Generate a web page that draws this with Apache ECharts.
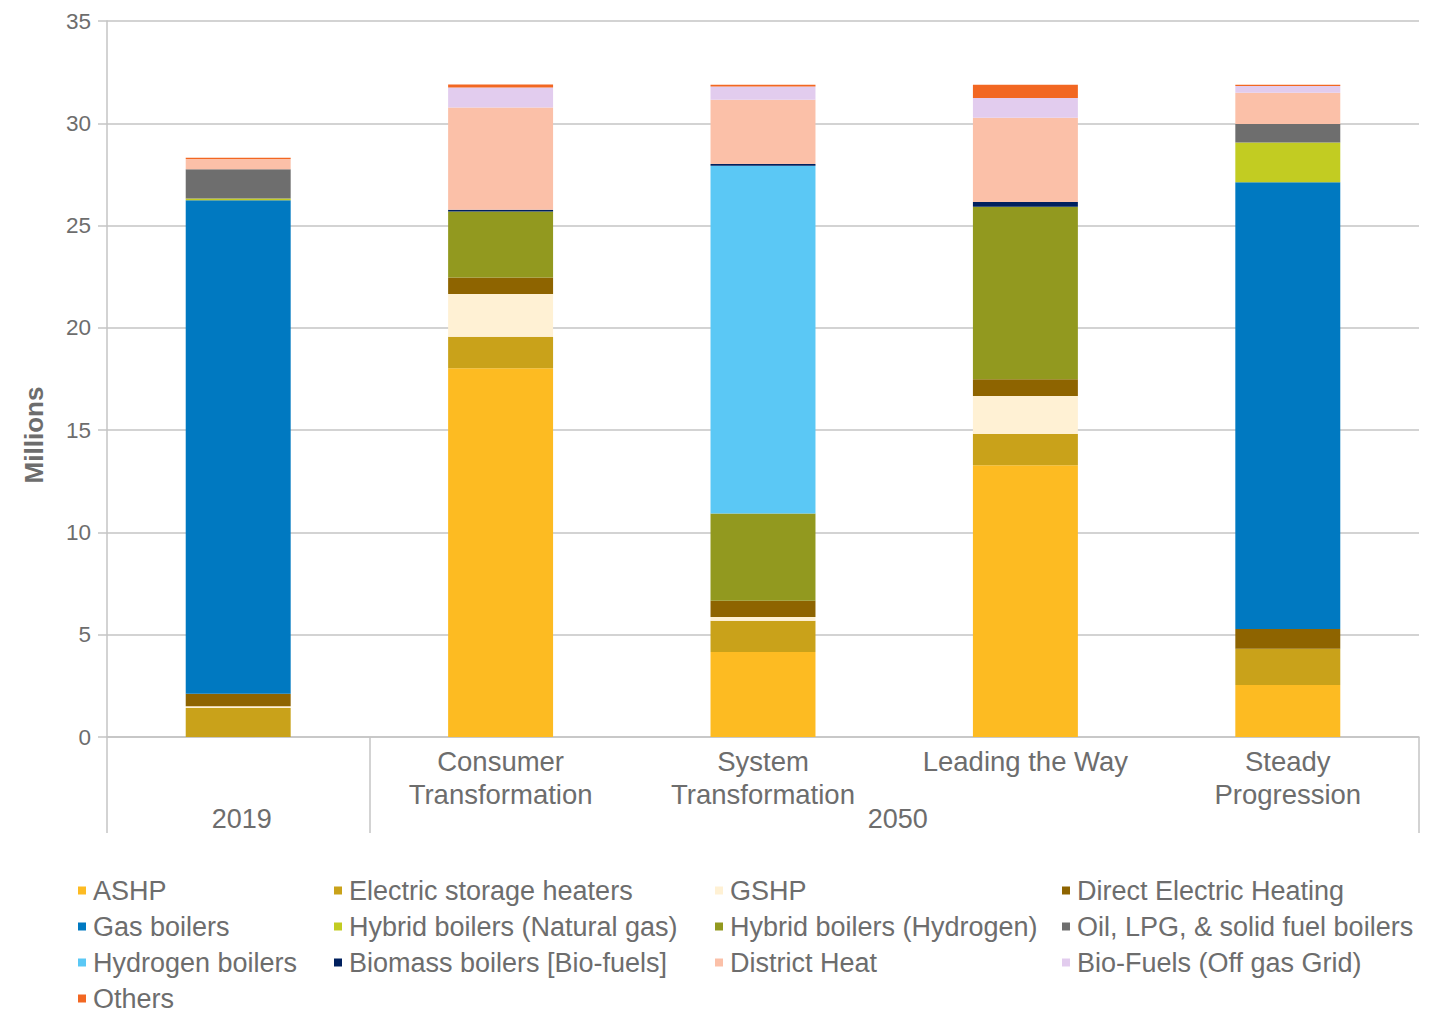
<!DOCTYPE html>
<html>
<head>
<meta charset="utf-8">
<script src="https://cdn.jsdelivr.net/npm/echarts@6/dist/echarts.min.js"></script>
<style>
html,body{margin:0;padding:0;background:#fff;}
#chart{width:1429px;height:1012px;}
</style>
</head>
<body>
<div id="chart"></div>
<script>
const categories = ['', 'Consumer\nTransformation', 'System\nTransformation', 'Leading the Way', 'Steady\nProgression'];
const groupLabels = ['2019', '2050'];
const yTicks = [0, 5, 10, 15, 20, 25, 30, 35];

const ashp      = [0,     18.02, 4.15,  13.28, 2.54];
const esh       = [1.42,  1.55,  1.53,  1.53,  1.78];
const gshp      = [0.08,  2.09,  0.18,  1.86,  0];
const deh       = [0.62,  0.80,  0.80,  0.82,  0.96];
const gasBoil   = [24.12, 0,     0,     0,     21.84];
const hybridNG  = [0.08,  0,     0,     0,     1.94];
const hybridH2  = [0,     3.23,  4.27,  8.43,  0];
const oilLpg    = [1.43,  0,     0,     0,     0.90];
const h2Boil    = [0,     0,     17.00, 0,     0];
const biomass   = [0,     0.08,  0.08,  0.23,  0];
const distHeat  = [0.50,  5.00,  3.14,  4.12,  1.53];
const bioFuels  = [0,     0.98,  0.65,  0.96,  0.33];
const others    = [0.07,  0.15,  0.08,  0.65,  0.06];

const seriesDefs = [
  ['ASHP', ashp, '#FDBB22'],
  ['Electric storage heaters', esh, '#C9A21A'],
  ['GSHP', gshp, '#FFF1D4'],
  ['Direct Electric Heating', deh, '#8E6400'],
  ['Gas boilers', gasBoil, '#0079C1'],
  ['Hybrid boilers (Natural gas)', hybridNG, '#C2CC22'],
  ['Hybrid boilers (Hydrogen)', hybridH2, '#92991F'],
  ['Oil, LPG, & solid fuel boilers', oilLpg, '#6E6E6E'],
  ['Hydrogen boilers', h2Boil, '#5BC8F5'],
  ['Biomass boilers [Bio-fuels]', biomass, '#00205E'],
  ['District Heat', distHeat, '#FBC0A8'],
  ['Bio-Fuels (Off gas Grid)', bioFuels, '#E2CCEE'],
  ['Others', others, '#F26722']
];

const FONT = "'Liberation Sans', Arial, sans-serif";
const TXT = '#6d6d6d';
const GRID = '#c4c4c4';

const legendCols = [
  {left: 78,  names: ['ASHP', 'Gas boilers', 'Hydrogen boilers', 'Others']},
  {left: 334, names: ['Electric storage heaters', 'Hybrid boilers (Natural gas)', 'Biomass boilers [Bio-fuels]']},
  {left: 715, names: ['GSHP', 'Hybrid boilers (Hydrogen)', 'District Heat']},
  {left: 1062, names: ['Direct Electric Heating', 'Oil, LPG, & solid fuel boilers', 'Bio-Fuels (Off gas Grid)']}
];

const chart = echarts.init(document.getElementById('chart'), null, {renderer: 'svg'});
chart.setOption({
  animation: false,
  textStyle: {fontFamily: FONT},
  grid: {left: 107, right: 10, top: 21, bottom: 275, containLabel: false},
  legend: legendCols.map(c => ({
    data: c.names,
    orient: 'vertical',
    left: c.left,
    top: 877,
    itemWidth: 8,
    itemHeight: 8,
    itemGap: 9,
    icon: 'rect',
    selectedMode: false,
    padding: 0,
    textStyle: {fontFamily: FONT, fontSize: 27, color: TXT, lineHeight: 27, padding: [0, 0, 0, 2]}
  })),
  xAxis: [
    {
      type: 'category',
      data: categories,
      axisLine: {show: true, lineStyle: {color: GRID, width: 1.5}},
      axisTick: {show: false},
      axisLabel: {fontFamily: FONT, fontSize: 27.5, color: TXT, lineHeight: 33, margin: 8, interval: 0}
    },
    {
      type: 'value',
      min: 0,
      max: 5,
      position: 'bottom',
      axisLine: {show: false},
      splitLine: {show: false},
      axisTick: {show: true, customValues: [0, 1, 5], length: 96, lineStyle: {color: GRID, width: 1.5}},
      axisLabel: {
        show: true,
        customValues: [0.5, 3],
        formatter: v => (v < 1 ? groupLabels[0] : groupLabels[1]),
        fontFamily: FONT, fontSize: 27, color: TXT, margin: 68,
        padding: [0, 0, 0, 7]
      }
    }
  ],
  yAxis: {
    type: 'value',
    min: 0,
    max: 35,
    interval: 5,
    name: 'Millions',
    nameLocation: 'middle',
    nameGap: 60,
    nameRotate: 90,
    nameTextStyle: {fontFamily: FONT, fontSize: 26, fontWeight: 'bold', color: TXT, padding: [0, 112, 0, 0]},
    axisLine: {show: true, lineStyle: {color: GRID, width: 1.5}},
    axisTick: {show: true, length: 9, lineStyle: {color: GRID, width: 1.5}},
    axisLabel: {fontFamily: FONT, fontSize: 22.5, color: TXT, margin: 16,
      formatter: v => (yTicks.indexOf(v) >= 0 ? String(v) : '')},
    splitLine: {show: true, lineStyle: {color: GRID, width: 1.5}}
  },
  series: seriesDefs.map(([name, data, color]) => ({
    name: name,
    type: 'bar',
    stack: 'total',
    xAxisIndex: 0,
    barWidth: '40%',
    data: data,
    itemStyle: {color: color},
    emphasis: {disabled: true}
  }))
});
</script>
</body>
</html>
